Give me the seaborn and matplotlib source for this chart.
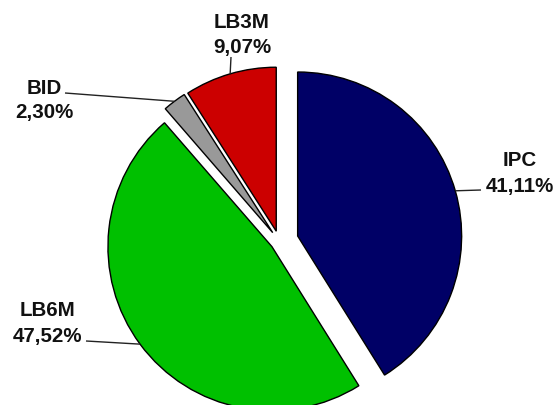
import numpy as np
import matplotlib
matplotlib.use("Agg")
import matplotlib.pyplot as plt
import seaborn as sns

# ---- data ----
categories = ["IPC", "LB6M", "BID", "LB3M"]
shares = [41.11, 47.52, 2.30, 9.07]
pct_labels = ["41,11%", "47,52%", "2,30%", "9,07%"]

# ---- style ----
colors = ["#000066", "#00C000", "#999999", "#CC0000"]
explode = [0.117, 0.055, 0.066, 0.064]
W, H = 556, 406
CX, CY, R = 279.2, 242.3, 164.0          # pie centre / radius in pixels (y from top)
# label placement in pixels: (centre x, name baseline y, pct baseline y)
label_pos = [(520, 166, 192), (48, 316, 342), (44, 94, 118), (242, 28, 53)]
# label-side end point of the leader lines, pixels
leader_ends = [(481, 191), (86, 342), (65, 94), (231, 58)]

sns.set_theme(style="white")
plt.rcParams["font.family"] = ["Liberation Sans", "DejaVu Sans"]


def to_unit(xp, yp):
    return (xp - CX) / R, (CY - yp) / R


fig = plt.figure(figsize=(W / 100, H / 100), dpi=100)
ax = fig.add_axes([0, 0, 1, 1])
wedges, _ = ax.pie(
    shares,
    colors=colors,
    startangle=90,
    counterclock=False,
    explode=explode,
    radius=1.0,
    center=(0, 0),
    wedgeprops=dict(edgecolor="black", linewidth=1.0),
)
ax.set_xlim(-CX / R, (W - CX) / R)
ax.set_ylim((CY - H) / R, CY / R)
ax.set_aspect("equal")
ax.axis("off")

for w, name, pct, (lx, yb1, yb2), (ex, ey) in zip(wedges, categories, pct_labels, label_pos, leader_ends):
    tm = np.deg2rad((w.theta1 + w.theta2) / 2)
    ax_pt = (w.center[0] + w.r * np.cos(tm), w.center[1] + w.r * np.sin(tm))
    e = to_unit(ex, ey)
    ax.plot([e[0], ax_pt[0]], [e[1], ax_pt[1]], color="#222222", lw=1.0, solid_capstyle="butt")
    x1, y1 = to_unit(lx, yb1)
    x2, y2 = to_unit(lx, yb2)
    ax.text(x1, y1, name, ha="center", va="baseline", fontsize=14.8, fontweight="bold", color="#111111")
    ax.text(x2, y2, pct, ha="center", va="baseline", fontsize=14.8, fontweight="bold", color="#111111")

fig.savefig("out.png", dpi=100, facecolor="white")
